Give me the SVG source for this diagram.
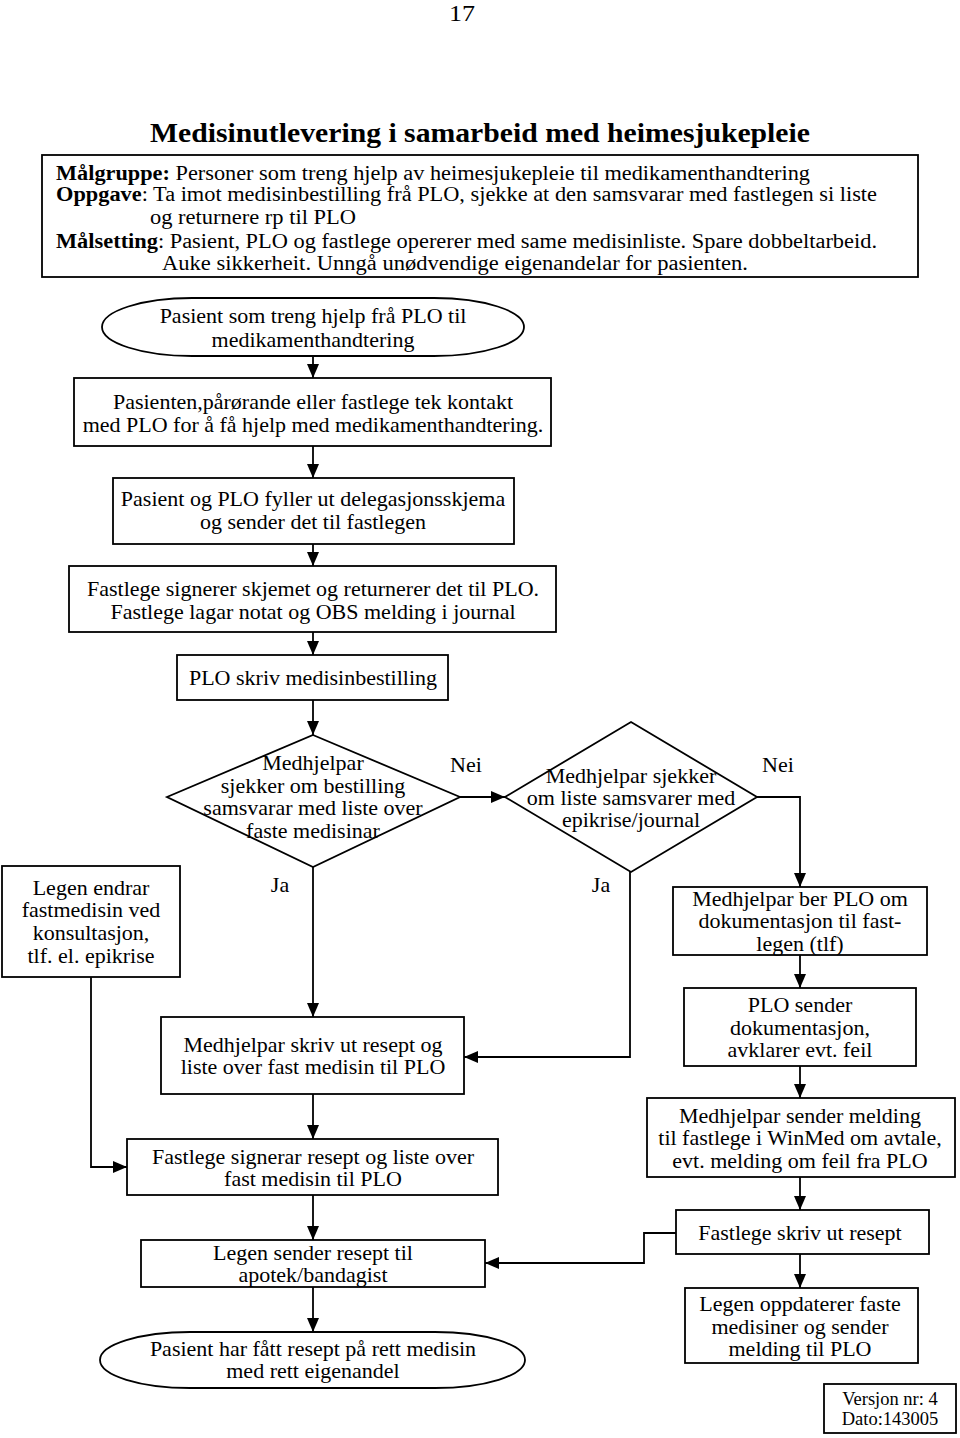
<svg xmlns="http://www.w3.org/2000/svg" width="960" height="1438" viewBox="0 0 960 1438">
<style>
  text { font-family: "Liberation Serif", "Times New Roman", serif; fill: #000; }
  .t { font-size: 22px; text-anchor: middle; }
  .h { font-size: 20px; }
  .b { font-weight: bold; }
  .box { fill: #fff; stroke: #000; stroke-width: 1.8; }
  .con { fill: none; stroke: #000; stroke-width: 1.8; }
</style>
<defs>
  <marker id="arr" viewBox="0 0 14 12" refX="14" refY="6" markerWidth="14" markerHeight="12" markerUnits="userSpaceOnUse" orient="auto">
    <path d="M0,0 L14,6 L0,12 z" fill="#000"/>
  </marker>
</defs>
<rect width="960" height="1438" fill="#fff"/>

<text x="462" y="21" style="font-size:24px;text-anchor:middle" textLength="26" lengthAdjust="spacingAndGlyphs">17</text>
<text x="480" y="142" class="b" style="font-size:27px;text-anchor:middle" textLength="660" lengthAdjust="spacingAndGlyphs">Medisinutlevering i samarbeid med heimesjukepleie</text>

<g id="header">
  <rect class="box" x="42" y="155" width="876" height="122"/>
  <text class="h" x="56" y="180" textLength="754" lengthAdjust="spacingAndGlyphs"><tspan class="b">Målgruppe:</tspan> Personer som treng hjelp av heimesjukepleie til medikamenthandtering</text>
  <text class="h" x="56" y="201" textLength="821" lengthAdjust="spacingAndGlyphs"><tspan class="b">Oppgave</tspan>: Ta imot medisinbestilling frå PLO, sjekke at den samsvarar med fastlegen si liste</text>
  <text class="h" x="150" y="224" textLength="206" lengthAdjust="spacingAndGlyphs">og returnere rp til PLO</text>
  <text class="h" x="56" y="248" textLength="821" lengthAdjust="spacingAndGlyphs"><tspan class="b">Målsetting</tspan>: Pasient, PLO og fastlege opererer med same medisinliste. Spare dobbeltarbeid.</text>
  <text class="h" x="162" y="270" textLength="586" lengthAdjust="spacingAndGlyphs">Auke sikkerheit.  Unngå unødvendige eigenandelar for pasienten.</text>
</g>

<g id="connectors">
  <path class="con" d="M313,356 V378" marker-end="url(#arr)"/>
  <path class="con" d="M313,446 V478" marker-end="url(#arr)"/>
  <path class="con" d="M313,544 V566" marker-end="url(#arr)"/>
  <path class="con" d="M313,632 V655" marker-end="url(#arr)"/>
  <path class="con" d="M313,700 V735" marker-end="url(#arr)"/>
  <path class="con" d="M460,797 H505" marker-end="url(#arr)"/>
  <path class="con" d="M757,797 H800 V887" marker-end="url(#arr)"/>
  <path class="con" d="M313,867 V1017" marker-end="url(#arr)"/>
  <path class="con" d="M630,872 V1057 H464" marker-end="url(#arr)"/>
  <path class="con" d="M91,977 V1167 H127" marker-end="url(#arr)"/>
  <path class="con" d="M313,1094 V1139" marker-end="url(#arr)"/>
  <path class="con" d="M313,1195 V1240" marker-end="url(#arr)"/>
  <path class="con" d="M313,1287 V1332" marker-end="url(#arr)"/>
  <path class="con" d="M676,1233 H644 V1263 H485" marker-end="url(#arr)"/>
  <path class="con" d="M800,955 V988" marker-end="url(#arr)"/>
  <path class="con" d="M800,1066 V1098" marker-end="url(#arr)"/>
  <path class="con" d="M800,1177 V1210" marker-end="url(#arr)"/>
  <path class="con" d="M800,1254 V1288" marker-end="url(#arr)"/>
</g>

<g id="start">
  <rect class="box" x="102" y="298" width="422" height="58" rx="90" ry="29"/>
  <text class="t" x="313" y="323">Pasient som treng hjelp frå PLO til</text>
  <text class="t" x="313" y="347">medikamenthandtering</text>
</g>
<g id="kontakt">
  <rect class="box" x="74" y="378" width="477" height="68"/>
  <text class="t" x="313" y="409">Pasienten,pårørande eller fastlege tek kontakt</text>
  <text class="t" x="313" y="432">med PLO for å få hjelp med medikamenthandtering.</text>
</g>
<g id="skjema">
  <rect class="box" x="113" y="478" width="401" height="66"/>
  <text class="t" x="313" y="506">Pasient og PLO fyller ut delegasjonsskjema</text>
  <text class="t" x="313" y="529">og sender det til fastlegen</text>
</g>
<g id="signerer">
  <rect class="box" x="69" y="566" width="487" height="66"/>
  <text class="t" x="313" y="596">Fastlege signerer skjemet og returnerer det til PLO.</text>
  <text class="t" x="313" y="619">Fastlege lagar notat og OBS melding i journal</text>
</g>
<g id="bestilling">
  <rect class="box" x="177" y="655" width="271" height="45"/>
  <text class="t" x="313" y="685">PLO skriv medisinbestilling</text>
</g>
<g id="diamond1">
  <polygon class="box" points="313,735 460,797 313,867 167,797"/>
  <text class="t" x="313" y="770">Medhjelpar</text>
  <text class="t" x="313" y="793">sjekker om bestilling</text>
  <text class="t" x="313" y="815">samsvarar med liste over</text>
  <text class="t" x="313" y="838">faste medisinar</text>
</g>
<g id="diamond2">
  <polygon class="box" points="631,722 757,797 631,872 505,797"/>
  <text class="t" x="631" y="783">Medhjelpar sjekker</text>
  <text class="t" x="631" y="805">om liste samsvarer med</text>
  <text class="t" x="631" y="827">epikrise/journal</text>
</g>
<g id="labels">
  <text class="t" x="466" y="772">Nei</text>
  <text class="t" x="778" y="772">Nei</text>
  <text class="t" x="280" y="892">Ja</text>
  <text class="t" x="601" y="892">Ja</text>
</g>
<g id="legen-endrar">
  <rect class="box" x="2" y="866" width="178" height="111"/>
  <text class="t" x="91" y="895">Legen endrar</text>
  <text class="t" x="91" y="917">fastmedisin ved</text>
  <text class="t" x="91" y="940">konsultasjon,</text>
  <text class="t" x="91" y="963">tlf. el. epikrise</text>
</g>
<g id="skriv-resept">
  <rect class="box" x="161" y="1017" width="303" height="77"/>
  <text class="t" x="313" y="1052">Medhjelpar skriv ut resept og</text>
  <text class="t" x="313" y="1074">liste over fast medisin til PLO</text>
</g>
<g id="signerar">
  <rect class="box" x="127" y="1139" width="371" height="56"/>
  <text class="t" x="313" y="1164">Fastlege signerar resept og liste over</text>
  <text class="t" x="313" y="1186">fast medisin til PLO</text>
</g>
<g id="sender-resept">
  <rect class="box" x="141" y="1240" width="344" height="47"/>
  <text class="t" x="313" y="1260">Legen sender resept til</text>
  <text class="t" x="313" y="1282">apotek/bandagist</text>
</g>
<g id="end">
  <rect class="box" x="100" y="1332" width="425" height="56" rx="90" ry="28"/>
  <text class="t" x="313" y="1356">Pasient har fått resept på rett medisin</text>
  <text class="t" x="313" y="1378">med rett eigenandel</text>
</g>
<g id="ber-plo">
  <rect class="box" x="673" y="887" width="254" height="68"/>
  <text class="t" x="800" y="906">Medhjelpar ber PLO om</text>
  <text class="t" x="800" y="928">dokumentasjon til fast-</text>
  <text class="t" x="800" y="951">legen (tlf)</text>
</g>
<g id="plo-sender">
  <rect class="box" x="684" y="988" width="232" height="78"/>
  <text class="t" x="800" y="1012">PLO sender</text>
  <text class="t" x="800" y="1035">dokumentasjon,</text>
  <text class="t" x="800" y="1057">avklarer evt. feil</text>
</g>
<g id="winmed">
  <rect class="box" x="647" y="1098" width="308" height="79"/>
  <text class="t" x="800" y="1123">Medhjelpar sender melding</text>
  <text class="t" x="800" y="1145">til fastlege i WinMed om avtale,</text>
  <text class="t" x="800" y="1168">evt. melding om feil fra PLO</text>
</g>
<g id="fastlege-skriv">
  <rect class="box" x="676" y="1210" width="253" height="44"/>
  <text class="t" x="800" y="1240">Fastlege skriv ut resept</text>
</g>
<g id="oppdaterer">
  <rect class="box" x="685" y="1288" width="233" height="75"/>
  <text class="t" x="800" y="1311">Legen oppdaterer faste</text>
  <text class="t" x="800" y="1334">medisiner og sender</text>
  <text class="t" x="800" y="1356">melding til PLO</text>
</g>
<g id="versjon">
  <rect class="box" x="824" y="1384" width="132" height="49"/>
  <text x="890" y="1405" style="font-size:18.5px;text-anchor:middle">Versjon nr: 4</text>
  <text x="890" y="1425" style="font-size:18.5px;text-anchor:middle">Dato:143005</text>
</g>
</svg>
